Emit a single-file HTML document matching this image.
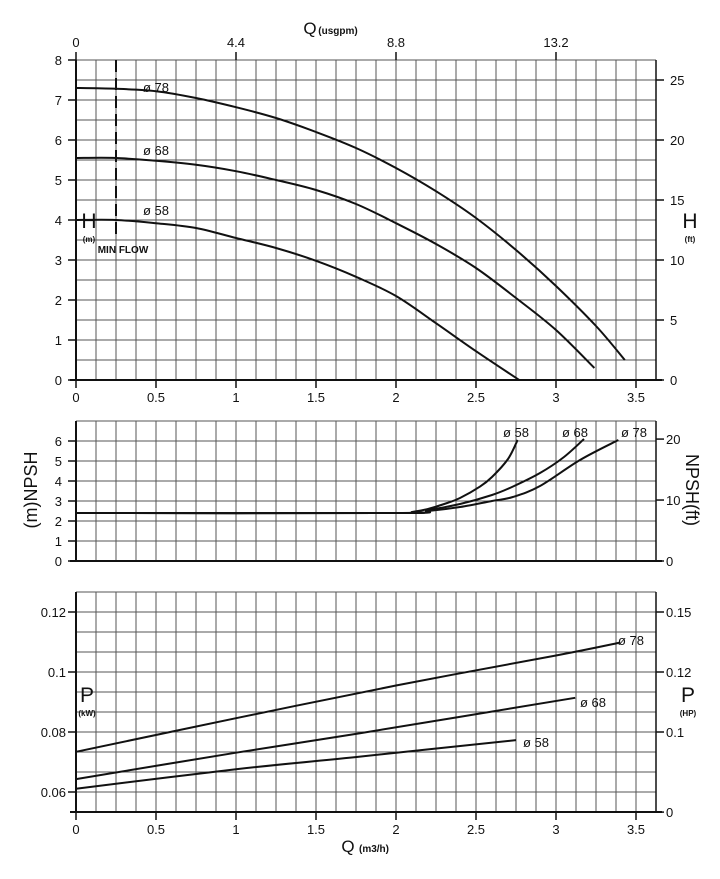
<!DOCTYPE html>
<html><head><meta charset="utf-8"><style>
html,body{margin:0;padding:0;background:#fff;}
svg{display:block;font-family:"Liberation Sans",sans-serif;}
</style></head><body>
<svg id="c" width="720" height="879" viewBox="0 0 720 879" xmlns="http://www.w3.org/2000/svg"></svg>
<script>
// ---- data ----
const qTicks = [0,0.5,1,1.5,2,2.5,3,3.5];
const usgpmTicks = ["0","4.4","8.8","13.2"];
const hTicks = [0,1,2,3,4,5,6,7,8];
const ftTicks = [0,5,10,15,20,25];
const npshTicks = [0,1,2,3,4,5,6];
const npshFtTicks = [0,10,20];
const pTicks = [0.06,0.08,0.1,0.12];
const hpTickLabels = ["0","0.1","0.12","0.15"];
const hpTickValues = [0.0533,0.08,0.1,0.12];

const h78Q = [0,0.25,0.5,0.75,1,1.25,1.5,1.75,2,2.25,2.5,2.75,3,3.25,3.43];
const h78 = [7.3,7.28,7.22,7.05,6.82,6.55,6.2,5.8,5.3,4.72,4.05,3.25,2.35,1.35,0.5];
const h68Q = [0,0.25,0.5,0.75,1,1.25,1.5,1.75,2,2.25,2.5,2.75,3,3.24];
const h68 = [5.55,5.55,5.48,5.38,5.22,5.0,4.75,4.4,3.92,3.4,2.8,2.05,1.25,0.3];
const h58Q = [0,0.25,0.5,0.75,1,1.25,1.5,1.75,2,2.25,2.5,2.77];
const h58 = [4.0,4.0,3.92,3.8,3.55,3.3,2.98,2.58,2.1,1.42,0.72,0];

const n58Q = [0,2,2.1,2.2,2.32,2.4,2.525,2.6,2.7,2.76];
const n58 = [2.4,2.4,2.45,2.6,2.9,3.15,3.72,4.2,5.1,6.05];
const n68Q = [0,2,2.2,2.4,2.6,2.73,2.9,3.05,3.175];
const n68 = [2.4,2.4,2.55,2.85,3.3,3.72,4.4,5.2,6.1];
const n78Q = [0,2,2.2,2.4,2.6,2.73,2.9,3.15,3.39];
const n78 = [2.4,2.4,2.5,2.7,3.0,3.2,3.75,5.05,6.05];

const p78Q = [0,1,2,3,3.4];
const p78 = [0.0734,0.0846,0.0955,0.1055,0.1098];
const p68Q = [0,1,1.775,3.12];
const p68 = [0.0643,0.0731,0.0796,0.0914];
const p58Q = [0,1,1.775,2.75];
const p58 = [0.0611,0.0676,0.0718,0.0773];

// ---- scales ----
const X0=76, XPX=160, XR=656;
const sx = q => X0 + q*XPX;
const syH = h => 380 - h*40;
const syFt = f => 380 - f*12;
const syN = n => 561 - n*20;
const syNft = f => 561 - f*6.1*20/20/1.0* (20/20) * (1/1) * (0.3048*20/6.1) ;
const syP = p => 612 + (0.12-p)*3000;

const svg=document.getElementById('c');
const NS='http://www.w3.org/2000/svg';
function el(tag, attrs, name, txt){
  const e=document.createElementNS(NS,tag);
  for(const k in attrs) e.setAttribute(k,attrs[k]);
  
  
  if(txt!==undefined) e.textContent=txt;
  svg.appendChild(e); return e;
}
function line(x1,y1,x2,y2,w,name,extra){
  const a={x1,y1,x2,y2,stroke:'#111','stroke-width':w};
  if(extra) Object.assign(a,extra);
  return el('line',a,name);
}
function text(x,y,s,size,anchor,name,extra){
  const a={x,y,'font-size':size,'text-anchor':anchor||'middle',fill:'#111'};
  if(extra) Object.assign(a,extra);
  return el('text',a,name,s);
}
function smooth(pts){
  let d='M'+pts[0][0].toFixed(1)+' '+pts[0][1].toFixed(1);
  for(let i=0;i<pts.length-1;i++){
    const p0=pts[i-1]||pts[i],p1=pts[i],p2=pts[i+1],p3=pts[i+2]||p2;
    const c1=[p1[0]+(p2[0]-p0[0])/6,p1[1]+(p2[1]-p0[1])/6];
    const c2=[p2[0]-(p3[0]-p1[0])/6,p2[1]-(p3[1]-p1[1])/6];
    d+=' C'+c1[0].toFixed(1)+' '+c1[1].toFixed(1)+' '+c2[0].toFixed(1)+' '+c2[1].toFixed(1)+' '+p2[0].toFixed(1)+' '+p2[1].toFixed(1);
  }
  return d;
}
function curve(qs,vs,sy,name){
  const pts=qs.map((q,i)=>[sx(q),sy(vs[i])]);
  el('path',{d:smooth(pts),fill:'none',stroke:'#111','stroke-width':2},name);
}
function grid(top,bottom,name){
  for(let x=X0+20;x<=XR;x+=20) line(x,top,x,bottom,1,name+'-vgrid',{stroke:'#555'});
  for(let y=bottom-20;y>=top-0.5;y-=20) line(X0,y,XR,y,1,name+'-hgrid',{stroke:'#555'});
  line(X0,top,XR,top,1,name+'-top-border',{stroke:'#555'});
  line(X0,top,X0,bottom,2,name+'-left-axis');
  line(XR,top,XR,bottom,1.5,name+'-right-axis');
  line(X0-6,bottom,XR+6,bottom,2,name+'-bottom-axis');
}

// ---- H panel ----
grid(60,380,'head');
qTicks.forEach(q=>{line(sx(q),380,sx(q),388,1.5,'q-tick');text(sx(q),402,String(q),13,'middle','q-tick-label');});
usgpmTicks.forEach((t,i)=>{const x=sx(i*1);line(x,52,x,60,1.5,'usgpm-tick');text(x,47,t,13,'middle','usgpm-tick-label');});
hTicks.forEach(h=>{line(X0-8,syH(h),X0,syH(h),1.5,'h-tick');text(62,syH(h)+5,String(h),13,'end','h-tick-label');});
ftTicks.forEach(f=>{line(XR,syFt(f),XR+8,syFt(f),1.5,'ft-tick');text(670,syFt(f)+5,String(f),13,'start','ft-tick-label');});
text(310,34,'Q',17,'middle','usgpm-axis-title');
text(338,34,'(usgpm)',10,'middle','usgpm-axis-unit',{'font-weight':'bold'});
text(89,228,'H',21,'middle','h-axis-title');
text(89,242,'(m)',8,'middle','h-axis-unit',{'font-weight':'bold'});
text(690,228,'H',21,'middle','ft-axis-title');
text(690,242,'(ft)',8,'middle','ft-axis-unit',{'font-weight':'bold'});
line(116,60,116,240,2,'min-flow-line',{'stroke-dasharray':'12,6'});
text(123,253,'MIN  FLOW',10,'middle','min-flow-label',{'font-weight':'bold'});
curve(h78Q,h78,syH,'head-curve-78');
curve(h68Q,h68,syH,'head-curve-68');
curve(h58Q,h58,syH,'head-curve-58');
text(143,92,'ø 78',13,'start','head-label-78');
text(143,155,'ø 68',13,'start','head-label-68');
text(143,215,'ø 58',13,'start','head-label-58');

// ---- NPSH panel ----
grid(421,561,'npsh');
npshTicks.forEach(n=>{line(X0-8,syN(n),X0,syN(n),1.5,'npsh-tick');text(62,syN(n)+5,String(n),13,'end','npsh-tick-label');});
npshFtTicks.forEach(f=>{const y=561-f*0.3048*20;line(XR,y,XR+8,y,1.5,'npsh-ft-tick');text(666,y+5,String(f),13,'start','npsh-ft-tick-label');});
text(0,0,'(m)NPSH',18,'middle','npsh-axis-title',{transform:'translate(37,490) rotate(-90)'});
text(0,0,'NPSH(ft)',18,'middle','npsh-ft-axis-title',{transform:'translate(686,490) rotate(90)'});
curve(n58Q,n58,syN,'npsh-curve-58');
curve(n68Q,n68,syN,'npsh-curve-68');
curve(n78Q,n78,syN,'npsh-curve-78');
text(503,437,'ø 58',13,'start','npsh-label-58');
text(562,437,'ø 68',13,'start','npsh-label-68');
text(621,437,'ø 78',13,'start','npsh-label-78');

// ---- Power panel ----
grid(592,812,'power');
qTicks.forEach(q=>{line(sx(q),812,sx(q),820,1.5,'q-tick');text(sx(q),834,String(q),13,'middle','q-tick-label');});
pTicks.forEach(p=>{line(X0-8,syP(p),X0,syP(p),1.5,'p-tick');text(66,syP(p)+5,String(p),13,'end','p-tick-label');});
hpTickLabels.forEach((t,i)=>{const y=syP(hpTickValues[i]);line(XR,y,XR+8,y,1.5,'hp-tick');text(666,y+5,t,13,'start','hp-tick-label');});
text(87,702,'P',21,'middle','p-axis-title');
text(87,716,'(kW)',8,'middle','p-axis-unit',{'font-weight':'bold'});
text(688,702,'P',21,'middle','hp-axis-title');
text(688,716,'(HP)',8,'middle','hp-axis-unit',{'font-weight':'bold'});
text(348,852,'Q',17,'middle','q-axis-title');
text(374,852,'(m3/h)',10,'middle','q-axis-unit',{'font-weight':'bold'});
curve(p78Q,p78,syP,'power-curve-78');
curve(p68Q,p68,syP,'power-curve-68');
curve(p58Q,p58,syP,'power-curve-58');
text(618,645,'ø 78',13,'start','power-label-78');
text(580,707,'ø 68',13,'start','power-label-68');
text(523,747,'ø 58',13,'start','power-label-58');
</script>
</body></html>
